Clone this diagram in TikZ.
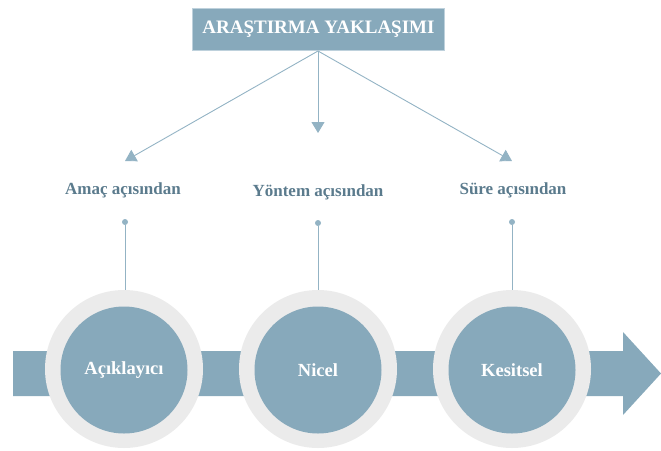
\documentclass[tikz,border=0pt]{standalone}
\usepackage{fontspec}
\setmainfont{Liberation Serif}
\usetikzlibrary{arrows.meta}
\definecolor{mainblue}{HTML}{87A9BB}
\definecolor{lineblue}{HTML}{93B3C4}
\definecolor{labelblue}{HTML}{5B7B8D}
\definecolor{ringgray}{HTML}{EBEBEB}
\begin{document}
\begin{tikzpicture}[x=1pt,y=-1pt,
  titlebox/.style={fill=mainblue,draw=lineblue!60,minimum width=252pt,minimum height=42pt,inner sep=0pt,text=white,font=\bfseries\fontsize{19}{21}\selectfont},
  catlabel/.style={text=labelblue,font=\bfseries\fontsize{17}{19}\selectfont,inner sep=0pt},
  conn/.style={draw=lineblue,line width=0.9pt,-{Triangle[length=11pt,width=13pt]}},
  stem/.style={draw=lineblue,line width=0.8pt},
  dotnode/.style={circle,fill=lineblue,minimum size=6pt,inner sep=0pt},
  ring/.style={circle,fill=ringgray,minimum size=158pt,inner sep=0pt},
  core/.style={circle,fill=mainblue,minimum size=127pt,inner sep=0pt,text=white,font=\bfseries\fontsize{18.5}{20}\selectfont}
]
\useasboundingbox (0,0) rectangle (661,450);
% title
\node[titlebox] (title) at (318.5,29) {ARAŞTIRMA YAKLAŞIMI};
\coordinate (src) at (318,51);
\coordinate (tl) at (125,161);
\coordinate (tm) at (318,133);
\coordinate (tr) at (512,161);
\draw[conn] (src) -- (tl);
\draw[conn] (src) -- (tm);
\draw[conn] (src) -- (tr);
% labels
\node[catlabel] (l1) at (123,190) {Amaç açısından};
\node[catlabel] (l2) at (318,192) {Yöntem açısından};
\node[catlabel] (l3) at (513,190) {Süre açısından};
% band arrow
\fill[mainblue] (13,351) -- (623,351) -- (623,332) -- (661,373.5) -- (623,415) -- (623,396) -- (13,396) -- cycle;
% circles
\node[ring] (r1) at (124,369) {};
\node[ring] (r2) at (318,369) {};
\node[ring] (r3) at (512,369) {};
\node[core] (c1) at (124,370) {Açıklayıcı};
\node[core] (c2) at (318,370) {Nicel};
\node[core] (c3) at (512,370) {Kesitsel};
% dots and stems
\node[dotnode] (d1) at (125,222) {};
\node[dotnode] (d2) at (318,223) {};
\node[dotnode] (d3) at (512,222) {};
\draw[stem] (d1) -- (r1.north -| d1);
\draw[stem] (d2) -- (r2.north -| d2);
\draw[stem] (d3) -- (r3.north -| d3);
\end{tikzpicture}
\end{document}
